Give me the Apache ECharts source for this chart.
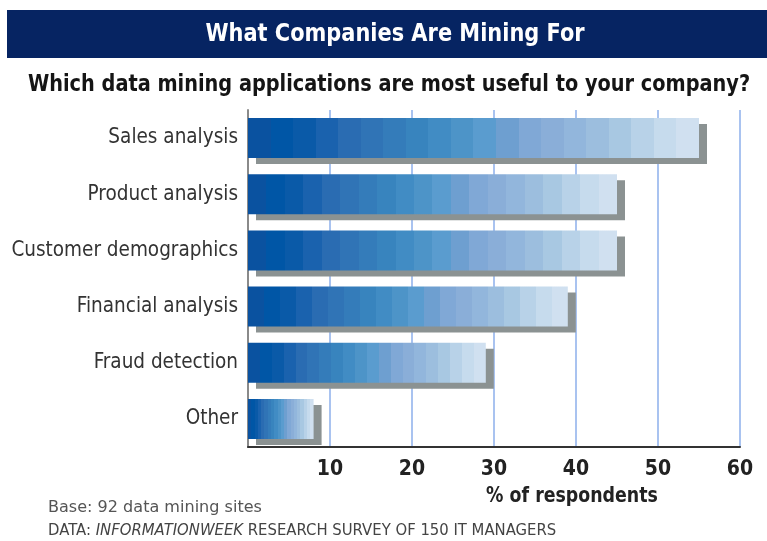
<!DOCTYPE html>
<html>
<head>
<meta charset="utf-8">
<script src="https://cdn.jsdelivr.net/npm/echarts@6/dist/echarts.min.js"></script>
<style>
html,body{margin:0;padding:0;background:#fff;}
#chart{width:767px;height:541px;}
</style>
</head>
<body>
<div id="chart"></div>
<script>
const categories = ['Sales analysis','Product analysis','Customer demographics','Financial analysis','Fraud detection','Other'];
const values = [55, 45, 45, 39, 29, 8];
const tickLabels = ['10','20','30','40','50','60'];
const titleText = 'What Companies Are Mining For';
const subtitleText = 'Which data mining applications are most useful to your company?';
const axisTitle = '% of respondents';
const noteBase = 'Base: 92 data mining sites';

const FONT = '"DejaVu Sans Condensed","Liberation Sans Narrow",sans-serif';
const FOOT = '"DejaVu Sans",sans-serif';
const bands = ['#0a52a0','#0056a6','#0a5aa8','#1a62ae','#2a6cb2','#3074b6','#347cba','#3884be','#418cc4','#4d94c8','#5a9ccf','#6e9fd0','#80a8d6','#8aaed8','#92b6dc','#9cbede','#a8c8e2','#b8d2e8','#c6dbed','#d0e0f0'];
const stops = [];
bands.forEach((c, i) => {
  stops.push({offset: i / bands.length, color: c});
  stops.push({offset: (i + 1) / bands.length - 0.0001, color: c});
});

const chart = echarts.init(document.getElementById('chart'), null, {renderer: 'canvas'});
chart.setOption({
  animation: false,
  backgroundColor: '#fff',
  grid: {left: 248, right: 27, top: 110, bottom: 94, containLabel: false},
  xAxis: {
    type: 'value', min: 0, max: 60, interval: 10,
    axisLine: {show: true, lineStyle: {color: '#333', width: 2}},
    axisTick: {show: false},
    splitLine: {show: true, lineStyle: {color: '#a9c3f0', width: 2}},
    axisLabel: {
      margin: 12, fontFamily: FONT, fontWeight: 'bold', fontSize: 21, color: '#222',
      formatter: v => { const i = tickLabels.indexOf(String(v)); return i >= 0 ? tickLabels[i] : ''; }
    }
  },
  yAxis: {
    type: 'category', data: categories, inverse: true,
    axisLine: {show: true, lineStyle: {color: '#8a8a8a', width: 2}},
    axisTick: {show: false},
    splitLine: {show: false},
    axisLabel: {margin: 10, fontFamily: FONT, fontSize: 20.5, color: '#333'}
  },
  series: [{
    type: 'bar', data: values, barWidth: 40,
    itemStyle: {
      color: {type: 'linear', x: 0, y: 0, x2: 1, y2: 0, colorStops: stops},
      shadowColor: '#8b9292', shadowBlur: 0, shadowOffsetX: 8, shadowOffsetY: 6
    }
  }],
  graphic: [
    {type: 'rect', shape: {x: 7, y: 10, width: 760, height: 48}, style: {fill: '#062462'}},
    {type: 'text', x: 395, y: 34, scaleX: 0.93, style: {text: titleText, fill: '#fff', font: 'bold 25px ' + FONT, align: 'center', verticalAlign: 'middle'}},
    {type: 'text', x: 389, y: 85, scaleX: 0.934, style: {text: subtitleText, fill: '#151515', font: 'bold 23px ' + FONT, align: 'center', verticalAlign: 'middle'}},
    {type: 'text', x: 572, y: 497, scaleX: 0.92, style: {text: axisTitle, fill: '#222', font: 'bold 21px ' + FONT, align: 'center', verticalAlign: 'middle'}},
    {type: 'text', x: 48, y: 508, scaleX: 1.07, style: {text: noteBase, fill: '#555', font: '15px ' + FOOT, verticalAlign: 'middle'}},
    {type: 'text', x: 48, y: 531, scaleX: 0.99, style: {
      text: '{n|DATA: }{i|INFORMATIONWEEK}{n| RESEARCH SURVEY OF 150 IT MANAGERS}',
      verticalAlign: 'middle',
      rich: {
        n: {font: '15px ' + FOOT, fill: '#444'},
        i: {font: 'italic 15px ' + FOOT, fill: '#444'}
      }
    }}
  ]
});
</script>
</body>
</html>
